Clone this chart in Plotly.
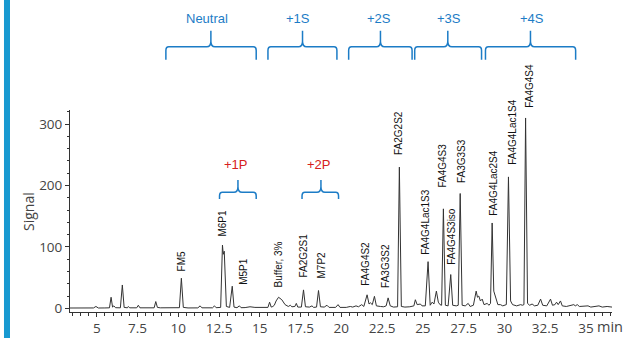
import plotly.graph_objects as go

# ---------------- data ----------------
rt = [3.36, 3.8, 4.3, 4.8, 4.95, 5.1, 5.5, 5.78, 5.88, 5.97, 6.05, 6.15, 6.45, 6.57, 6.68,
      6.88, 6.94, 7.02, 7.45, 7.55, 7.65, 8.2, 8.52, 8.62, 8.72, 8.9, 9.5, 10.07, 10.19, 10.31,
      10.6, 11.2, 11.34, 11.45, 12.1, 12.22, 12.32, 12.6, 12.71, 12.76, 12.82, 12.95, 13.15, 13.31,
      13.42, 13.6, 13.75, 13.85, 14.1, 14.4, 14.7, 15.0, 15.3, 15.5, 15.6, 15.7, 15.8, 15.89, 16.0,
      16.15, 16.35, 16.55, 16.75, 16.87, 16.97, 17.15, 17.24, 17.33, 17.55, 17.68, 17.8, 18.05,
      18.2, 18.3, 18.48, 18.6, 18.72, 18.95, 19.12, 19.25, 19.65, 19.8, 19.92, 20.3, 20.55, 20.7,
      20.9, 21.05, 21.25, 21.38, 21.58, 21.7, 21.78, 21.9, 22.03, 22.15, 22.4, 22.6, 22.75, 22.87,
      23.0, 23.2, 23.45, 23.56, 23.68, 23.9, 24.2, 24.45, 24.54, 24.65, 24.85, 24.95, 25.15, 25.32,
      25.45, 25.57, 25.68, 25.83, 25.95, 26.05, 26.15, 26.26, 26.38, 26.55, 26.71, 26.83, 27.05,
      27.17, 27.29, 27.41, 27.6, 27.78, 27.9, 28.1, 28.27, 28.35, 28.43, 28.53, 28.64, 28.75,
      28.95, 29.05, 29.15, 29.25, 29.35, 29.45, 29.6, 29.76, 29.9, 30.12, 30.25, 30.38, 30.5,
      30.75, 31.0, 31.1, 31.2, 31.3, 31.42, 31.55, 31.7, 31.85, 32.05, 32.22, 32.35, 32.6, 32.83,
      32.95, 33.1, 33.2, 33.3, 33.44, 33.55, 33.8, 34.05, 34.26, 34.35, 34.47, 34.6, 34.85, 35.13,
      35.3, 35.55, 35.8, 36.0, 36.3, 36.6]
signal = [0.5, 0.6, 0.4, 0.6, 3, 0.5, 0.6, 0.8, 18, 2, 4, 1, 0.8, 38, 1.5,
          0.8, 3, 0.8, 0.8, 5, 0.8, 0.6, 0.8, 11, 1.5, 0.8, 0.6, 1, 49, 1.5,
          0.6, 0.7, 4, 0.8, 0.8, 4, 1, 1.5, 103, 88, 93, 3, 1.5, 36,
          2, 1, 4, 1, 1.2, 2.5, 1.5, 1.5, 1.0, 1.5, 10, 2, 3, 5, 12,
          18, 14, 6, 3, 5, 2.5, 3, 8, 2, 2, 30, 2.5, 2,
          4, 1.5, 2, 29, 2.5, 2, 5, 1.5, 1.5, 6, 1.5, 1.5, 3, 2,
          4, 2.5, 6, 3, 22, 7, 9, 6, 19.5, 4, 3, 2.5, 4, 17,
          4, 2, 2.5, 230, 3, 2, 2.5, 4, 14, 6, 7, 4, 4, 76,
          5, 10, 7, 28, 10, 6, 5, 162, 5, 4, 55, 5, 4,
          5, 187, 5, 4, 8, 3, 5, 28, 18, 20, 12, 15, 6,
          8, 5, 8, 139, 28, 20, 6, 6, 4, 6, 214, 12, 6,
          4, 6, 5, 6, 310, 8, 5, 7, 4, 5, 15, 5, 4, 15,
          5, 6, 10, 6, 12, 4, 3, 4, 6, 4, 6, 3, 3, 4,
          2, 3, 4, 2, 3, 2]

peak_labels = ["FM5", "M6P1", "M5P1", "Buffer, 3%", "FA2G2S1", "M7P2", "FA4G4S2", "FA3G3S2",
               "FA2G2S2", "FA4G4Lac1S3", "FA4G4S3", "FA4G4S3iso", "FA3G3S3", "FA4G4Lac2S4",
               "FA4G4Lac1S4", "FA4G4S4"]
label_rt = [10.2, 12.73, 14.0, 16.15, 17.68, 18.81, 21.43, 22.74,
            23.52, 25.16, 26.22, 26.79, 27.41, 29.31, 30.48, 31.5]
label_signal = [56, 114, 35, 30, 46, 46, 33, 30,
                246, 84, 193, 67, 201, 147, 230, 323]

top_groups = ["Neutral", "+1S", "+2S", "+3S", "+4S"]
top_start = [9.24, 15.5, 20.45, 24.5, 28.84]
top_end = [14.78, 19.73, 24.34, 28.6, 34.37]
top_tip = [12.0, 17.62, 22.4, 26.53, 31.6]
top_text_rt = [11.77, 17.36, 22.29, 26.63, 31.67]

low_groups = ["+1P", "+2P"]
low_start = [12.53, 17.59]
low_end = [14.78, 19.83]
low_tip = [13.66, 18.75]

X_RANGE = [3.36, 36.6]
Y_RANGE = [-6, 323]

BLUE = "#1c7cc6"
RED = "#d62020"


def yp(v):
    return (v - Y_RANGE[0]) / (Y_RANGE[1] - Y_RANGE[0])


def brace_path(x0, x1, xm, y_end, y_h, y_tip, conv=lambda v: v):
    dx, dy = 0.18, 6
    tdx, tdy = 0.25, 9
    pts = [
        f"M {x0},{conv(y_end)}",
        f"L {x0},{conv(y_h - dy)}",
        f"Q {x0},{conv(y_h)} {x0 + dx},{conv(y_h)}",
        f"L {xm - tdx},{conv(y_h)}",
        f"Q {xm},{conv(y_h)} {xm},{conv(y_h + tdy)}",
        f"L {xm},{conv(y_tip)}",
        f"L {xm},{conv(y_h + tdy)}",
        f"Q {xm},{conv(y_h)} {xm + tdx},{conv(y_h)}",
        f"L {x1 - dx},{conv(y_h)}",
        f"Q {x1},{conv(y_h)} {x1},{conv(y_h - dy)}",
        f"L {x1},{conv(y_end)}",
    ]
    return " ".join(pts)


fig = go.Figure()
fig.add_trace(go.Scatter(x=rt, y=signal, mode="lines",
                         line=dict(color="#333333", width=1), hoverinfo="skip",
                         showlegend=False))

shapes = []
annotations = []

# left decorative bar
shapes.append(dict(type="rect", xref="paper", yref="paper",
                   x0=-0.1218, x1=-0.1107, y0=-0.14, y1=1.56,
                   fillcolor="#1799d1", line=dict(width=0), layer="below"))

# top group braces (above plot area)
for name, s, e, m, tx in zip(top_groups, top_start, top_end, top_tip, top_text_rt):
    shapes.append(dict(type="path", xref="x", yref="paper",
                       path=brace_path(s, e, m, 405, 426, 452, conv=yp),
                       line=dict(color=BLUE, width=1.5)))
    annotations.append(dict(x=tx, y=yp(472), xref="x", yref="paper", text=name,
                            showarrow=False, xanchor="center", yanchor="middle",
                            font=dict(family="Liberation Sans, Arial", size=13, color=BLUE)))

# lower group braces (inside plot area)
for name, s, e, m in zip(low_groups, low_start, low_end, low_tip):
    shapes.append(dict(type="path", xref="x", yref="y",
                       path=brace_path(s, e, m, 178, 189, 209),
                       line=dict(color=BLUE, width=1.5)))
    annotations.append(dict(x=m - 0.1, y=235, xref="x", yref="y", text=name,
                            showarrow=False, xanchor="center", yanchor="middle",
                            font=dict(family="Liberation Sans, Arial", size=13, color=RED)))

# peak labels
for name, x, y in zip(peak_labels, label_rt, label_signal):
    annotations.append(dict(x=x, y=y, xref="x", yref="y", text=name, textangle=-90,
                            showarrow=False, xanchor="center", yanchor="bottom",
                            font=dict(family="Liberation Sans, Arial", size=10, color="#111111")))

# axis title and unit
annotations.append(dict(x=-0.0775, y=0.5, xref="paper", yref="paper", text="Signal",
                        textangle=-90, showarrow=False, xanchor="center", yanchor="middle",
                        font=dict(family="Open Sans", size=14, color="#444444")))
annotations.append(dict(x=0.968, y=-0.072, xref="paper", yref="paper", text="min",
                        showarrow=False, xanchor="left", yanchor="middle",
                        font=dict(family="Open Sans", size=14.5, color="#444444")))

fig.update_layout(
    width=626, height=338,
    margin=dict(l=70, r=14, t=110, b=26, autoexpand=False),
    paper_bgcolor="white", plot_bgcolor="white",
    showlegend=False,
    shapes=shapes, annotations=annotations,
    xaxis=dict(range=X_RANGE, tick0=0, dtick=2.5, ticks="outside", ticklen=4,
               tickcolor="#333", showline=True, linecolor="#333", linewidth=1,
               showgrid=False, zeroline=False,
               tickfont=dict(family="Open Sans", size=13.5, color="#444444"),
               minor=dict(dtick=0.5, tick0=0, ticks="outside", ticklen=2.5, tickcolor="#333")),
    yaxis=dict(range=Y_RANGE, tickvals=[0, 100, 200, 300], ticks="outside", ticklen=4,
               tickcolor="#333", showline=True, linecolor="#333", linewidth=1,
               showgrid=False, zeroline=False,
               tickfont=dict(family="Open Sans", size=13.5, color="#444444"),
               minor=dict(dtick=20, tick0=0, ticks="outside", ticklen=2.5, tickcolor="#333")),
)

fig.write_html("out.html", config={"displayModeBar": False},
               post_script="document.body.style.margin='0';document.body.style.overflow='hidden';")
